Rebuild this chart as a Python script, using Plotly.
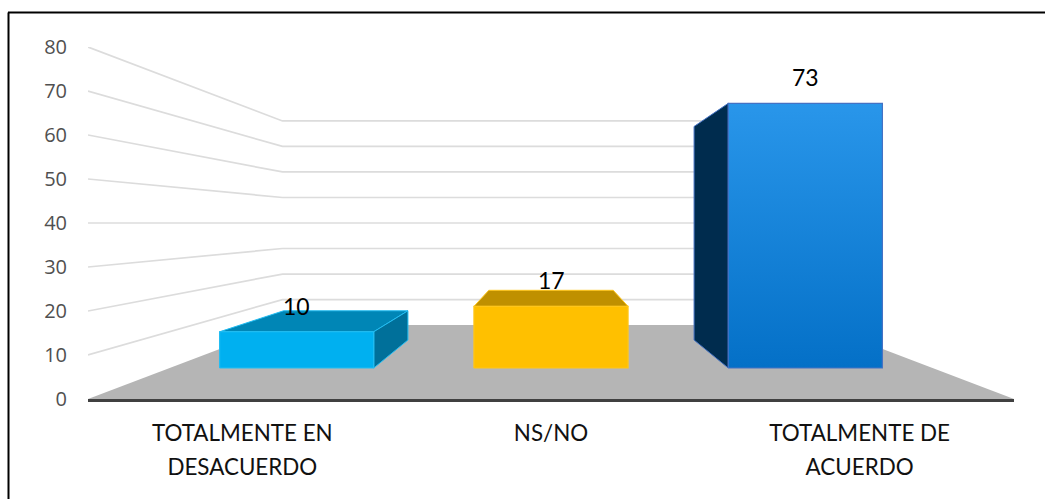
import plotly.graph_objects as go

# Data
categories = ["TOTALMENTE EN<br>DESACUERDO", "NS/NO", "TOTALMENTE DE<br>ACUERDO"]
values = [10, 17, 73]
y_ticks = [0, 10, 20, 30, 40, 50, 60, 70, 80]

front_colors = ["#00B0F0", "#FFC000", None]
top_colors = ["#0086B6", "#BF9000", "#1A6FB5"]
side_colors = ["#00709A", "#8F6C00", "#002C4E"]
edge_colors = ["#22BDF2", "#FFC61A", "#4472C4"]
gradient_bar3 = [[0, "#0470C7"], [1, "#2996EA"]]

# Oblique 3-D projection into the axis' own units
VP_X, VP_Y = 1.0, 40.0          # vanishing point: centre category, value 40
S_WALL = 0.58                   # scale of the back wall
S_BAR_FRONT = 0.824             # scale of a column's front face
S_BAR_BACK = 0.665              # scale of a column's back face
HALF_W = 0.303                  # half a column, in category units


def proj(x, v, s):
    return VP_X + (x - VP_X) * s, VP_Y + (v - VP_Y) * s


def poly(points, fill, line=None, width=1, gradient=None):
    xs = [p[0] for p in points] + [points[0][0]]
    ys = [p[1] for p in points] + [points[0][1]]
    kw = dict(fillgradient=gradient) if gradient else dict(fillcolor=fill)
    return go.Scatter(
        x=xs, y=ys, mode="lines", fill="toself",
        line=dict(color=line or "rgba(0,0,0,0)", width=width),
        hoverinfo="skip", showlegend=False, **kw,
    )


fig = go.Figure()

# Floor
x_lo, x_hi = -0.5, 2.5
fig.add_trace(poly(
    [proj(x_lo, 0, 1), proj(x_hi, 0, 1), proj(x_hi, 0, S_WALL), proj(x_lo, 0, S_WALL)],
    "#B5B5B5",
))

# Gridlines on side and back walls
gx, gy = [], []
for t in y_ticks[1:]:
    for p in (proj(x_lo, t, 1), proj(x_lo, t, S_WALL), proj(x_hi, t, S_WALL)):
        gx.append(p[0])
        gy.append(p[1])
    gx.append(None)
    gy.append(None)
fig.add_trace(go.Scatter(
    x=gx, y=gy, mode="lines", line=dict(color="#DCDCDC", width=1.7),
    hoverinfo="skip", showlegend=False,
))

# Columns
for i, v in enumerate(values):
    l, r = i - HALF_W, i + HALF_W
    if v < VP_Y:
        fig.add_trace(poly(
            [proj(l, v, S_BAR_FRONT), proj(r, v, S_BAR_FRONT),
             proj(r, v, S_BAR_BACK), proj(l, v, S_BAR_BACK)],
            top_colors[i], edge_colors[i],
        ))
    if r < VP_X:
        fig.add_trace(poly(
            [proj(r, 0, S_BAR_FRONT), proj(r, v, S_BAR_FRONT),
             proj(r, v, S_BAR_BACK), proj(r, 0, S_BAR_BACK)],
            side_colors[i], edge_colors[i],
        ))
    if l > VP_X:
        fig.add_trace(poly(
            [proj(l, 0, S_BAR_FRONT), proj(l, v, S_BAR_FRONT),
             proj(l, v, S_BAR_BACK), proj(l, 0, S_BAR_BACK)],
            side_colors[i], edge_colors[i],
        ))
    grad = dict(type="vertical", colorscale=gradient_bar3) if front_colors[i] is None else None
    fig.add_trace(poly(
        [proj(l, 0, S_BAR_FRONT), proj(r, 0, S_BAR_FRONT),
         proj(r, v, S_BAR_FRONT), proj(l, v, S_BAR_FRONT)],
        front_colors[i], edge_colors[i], 1.2, grad,
    ))
    lx, ly = proj(i, v, S_BAR_FRONT)
    fig.add_annotation(
        x=lx, y=ly, text=str(v), showarrow=False, yanchor="middle", yshift=26,
        font=dict(family="Lato", size=23, color="#000000"),
    )

# Category labels: the larger base size sets the wide line spacing of the original
tick_text = ["<br>".join('<span style="font-size:22.4px">' + part + "</span>"
                         for part in c.split("<br>")) for c in categories]

fig.update_layout(
    width=1045, height=499,
    autosize=False,
    margin=dict(l=88, r=31, t=47, b=100, pad=0),
    paper_bgcolor="#FFFFFF",
    plot_bgcolor="#FFFFFF",
    showlegend=False,
    xaxis=dict(
        range=[x_lo, x_hi], tickmode="array", tickvals=[0, 1, 2], ticktext=tick_text,
        tickangle=0, showgrid=False, zeroline=False, showline=True,
        linecolor="#404040", linewidth=3, ticks="", ticklabelstandoff=9,
        tickfont=dict(family="Lato", size=25.4, color="#111111"),
    ),
    yaxis=dict(
        range=[0, 80], tickmode="array", tickvals=y_ticks,
        showgrid=False, zeroline=False, showline=False, ticks="",
        ticklabelstandoff=20,
        tickfont=dict(family="Open Sans", size=20, color="#505050"),
    ),
    shapes=[
        dict(type="line", xref="paper", yref="paper",
             x0=(8.5 - 88) / 926, x1=(8.5 - 88) / 926, y0=(399 - 499) / 352, y1=(399 - 12.5) / 352,
             line=dict(color="#000000", width=2)),
        dict(type="line", xref="paper", yref="paper",
             x0=(8 - 88) / 926, x1=(1045 - 88) / 926, y0=(399 - 12.5) / 352, y1=(399 - 12.5) / 352,
             line=dict(color="#000000", width=2)),
    ],
)

fig.write_html("out.html", config=dict(displayModeBar=False),
               post_script="document.body.style.margin='0';")
